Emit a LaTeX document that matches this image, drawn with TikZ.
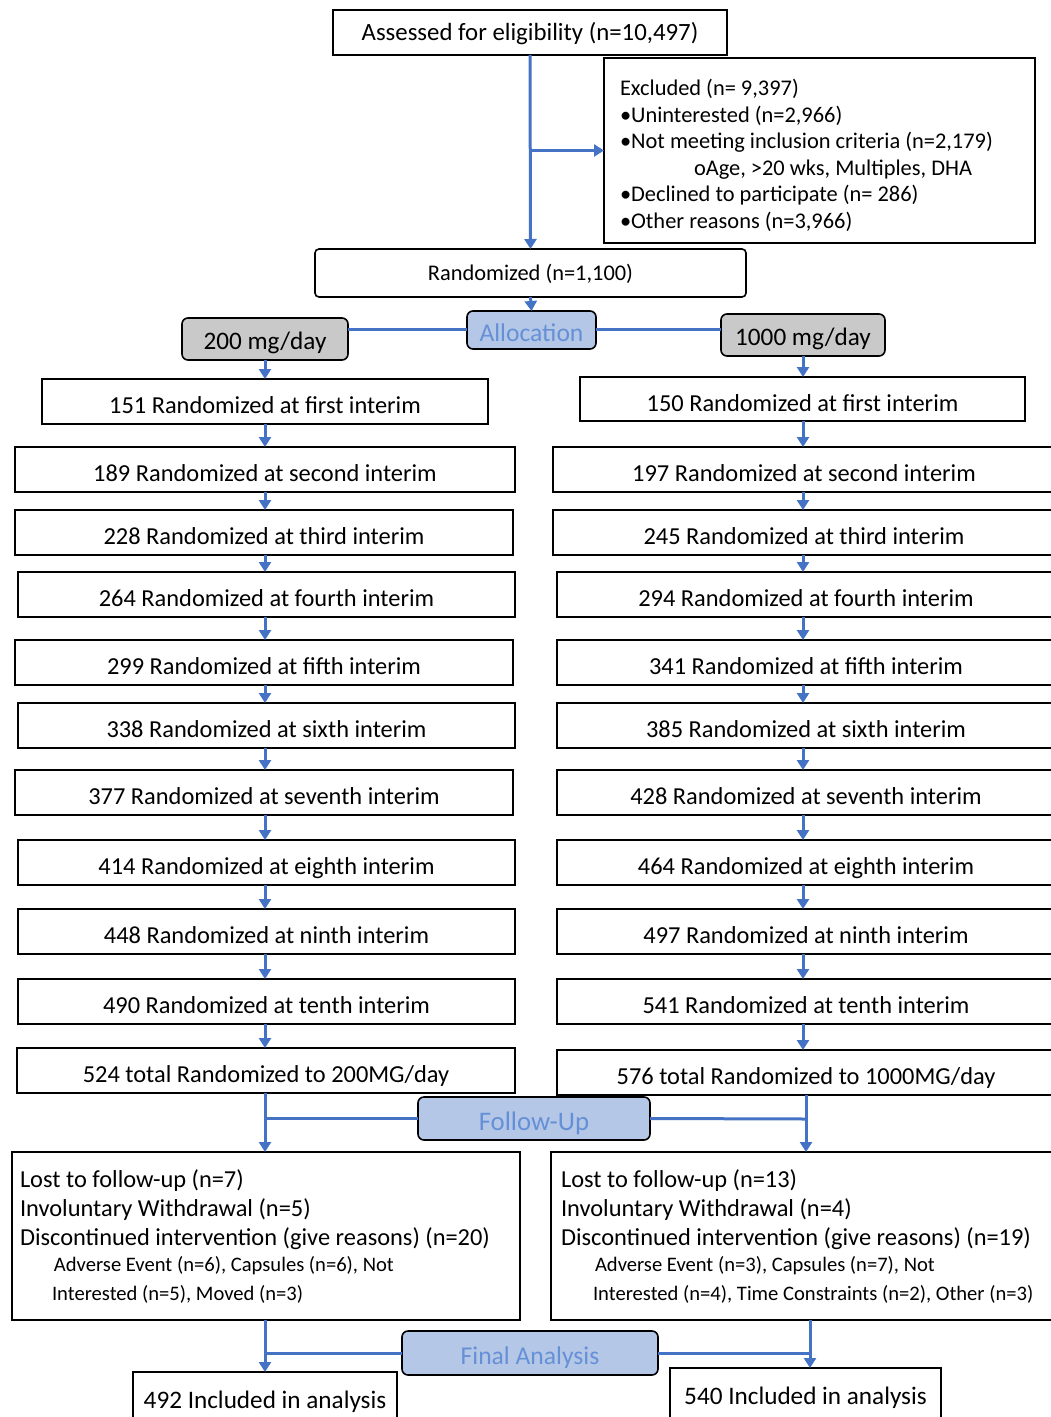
\documentclass[tikz,border=0pt]{standalone}
\usepackage{fontspec}
\setmainfont{Carlito}
\usetikzlibrary{arrows.meta}
\definecolor{lblue}{HTML}{4472C4}
\definecolor{pblue}{HTML}{B4C7E7}
\definecolor{tblue}{HTML}{6690D6}
\definecolor{gbox}{HTML}{C9C9C9}
\newcommand\placebox[7]{\node[#6, minimum width={(#4-#2)*0.5pt}, minimum height={(#5-#3)*0.5pt}] (#1) at ({(#2+#4)/2},{(#3+#5)/2}) {#7};}
\tikzset{
 base/.style={draw=black, line width=0.8pt, inner sep=0pt, outer sep=0pt, font=\fontsize{12.2}{14.5}\selectfont},
 bx/.style={base, text height=12pt, text depth=0pt},
 multi/.style={base, align=flush left},
 rbox/.style={bx, rounded corners=2pt},
 grp/.style={bx, rounded corners=3pt, fill=gbox, font=\fontsize{12.6}{14.5}\selectfont},
 phase/.style={bx, rounded corners=3pt, fill=pblue, text=tblue, font=\fontsize{12.8}{14.5}\selectfont},
 conn/.style={draw=lblue, line width=1.5pt},
 arr/.style={conn, -{Triangle[width=6pt,length=5pt]}},
}
\begin{document}
\begin{tikzpicture}[x=0.5pt,y=-0.5pt]
\path[use as bounding box, fill=white] (0,0) rectangle (1050,1417);
% top
\placebox{assess}{333}{10}{727}{55}{bx, text height=8.5pt, font=\fontsize{12.4}{14.5}\selectfont}{Assessed for eligibility (n=10,497)}
\placebox{excl}{604}{58}{1035}{243}{multi, text width=199.5pt, font=\fontsize{11.2}{13.3}\selectfont}{\rule{0pt}{13pt}Excluded (n= 9,397)\\
•Uninterested (n=2,966)\\
•Not meeting inclusion criteria (n=2,179)\\
\hspace*{37pt}oAge, >20 wks, Multiples, DHA\\
•Declined to participate (n= 286)\\
•Other reasons (n=3,966)}
\placebox{rand}{315}{249}{746}{297}{rbox, text height=8pt, font=\fontsize{11.2}{13}\selectfont}{Randomized (n=1,100)}
\placebox{alloc}{467}{311}{596}{349}{phase}{Allocation}
\placebox{g200}{182}{318}{348}{360}{grp, text height=10.5pt}{200 mg/day}
\placebox{g1000}{721}{314}{885}{356}{grp, text height=10.5pt}{1000 mg/day}
% left column
\placebox{L1}{42}{379}{488}{424}{bx}{151 Randomized at first interim}
\placebox{L2}{15}{447}{515}{492}{bx}{189 Randomized at second interim}
\placebox{L3}{15}{510}{513}{555}{bx}{228 Randomized at third interim}
\placebox{L4}{18}{572}{515}{617}{bx}{264 Randomized at fourth interim}
\placebox{L5}{15}{640}{513}{685}{bx}{299 Randomized at fifth interim}
\placebox{L6}{18}{703}{515}{748}{bx}{338 Randomized at sixth interim}
\placebox{L7}{15}{770}{513}{815}{bx}{377 Randomized at seventh interim}
\placebox{L8}{18}{840}{515}{885}{bx}{414 Randomized at eighth interim}
\placebox{L9}{18}{909}{515}{954}{bx}{448 Randomized at ninth interim}
\placebox{L10}{18}{979}{515}{1024}{bx}{490 Randomized at tenth interim}
\placebox{L11}{17}{1048}{515}{1093}{bx}{524 total Randomized to 200MG/day}
% right column
\placebox{R1}{580}{377}{1025}{421}{bx}{150 Randomized at first interim}
\placebox{R2}{553}{447}{1055}{492}{bx}{197 Randomized at second interim}
\placebox{R3}{553}{510}{1055}{555}{bx}{245 Randomized at third interim}
\placebox{R4}{557}{572}{1055}{617}{bx}{294 Randomized at fourth interim}
\placebox{R5}{557}{640}{1055}{685}{bx}{341 Randomized at fifth interim}
\placebox{R6}{557}{703}{1055}{748}{bx}{385 Randomized at sixth interim}
\placebox{R7}{557}{770}{1055}{815}{bx}{428 Randomized at seventh interim}
\placebox{R8}{557}{840}{1055}{885}{bx}{464 Randomized at eighth interim}
\placebox{R9}{557}{909}{1055}{954}{bx}{497 Randomized at ninth interim}
\placebox{R10}{557}{979}{1055}{1024}{bx}{541 Randomized at tenth interim}
\placebox{R11}{557}{1050}{1055}{1095}{bx}{576 total Randomized to 1000MG/day}
% follow-up
\placebox{fu}{418}{1097}{650}{1140}{phase, font=\fontsize{13.4}{15}\selectfont}{Follow-Up}
\placebox{lostL}{12}{1152}{520}{1320}{multi, text width=246pt}{Lost to follow-up (n=7)\\
Involuntary Withdrawal (n=5)\\
Discontinued intervention (give reasons) (n=20)\\[1pt]
\fontsize{10.3}{12}\selectfont\hspace*{17pt}Adverse Event (n=6), Capsules (n=6), Not\\
\fontsize{10.3}{12}\selectfont\hspace*{16pt}Interested (n=5), Moved (n=3)}
\placebox{lostR}{551}{1152}{1055}{1320}{multi, text width=242pt}{Lost to follow-up (n=13)\\
Involuntary Withdrawal (n=4)\\
Discontinued intervention (give reasons) (n=19)\\[1pt]
\fontsize{10.3}{12}\selectfont\hspace*{17pt}Adverse Event (n=3), Capsules (n=7), Not\\
\fontsize{10.3}{12}\selectfont\hspace*{16pt}Interested (n=4), Time Constraints (n=2), Other (n=3)}
% final analysis
\placebox{fa}{402}{1331}{658}{1375}{phase, text height=11pt}{Final Analysis}
\placebox{incL}{133}{1372}{397}{1426}{bx, text height=9pt, font=\fontsize{12.6}{14.5}\selectfont}{492 Included in analysis}
\placebox{incR}{670}{1368}{941}{1422}{bx, text height=9pt, font=\fontsize{12.6}{14.5}\selectfont}{540 Included in analysis}
% connectors
\draw[arr] (assess.south) -- (rand.north);
\draw[arr] (assess.south |- excl.west) -- (excl.west);
\draw[arr] (rand.south) -- (alloc.north);
\draw[conn] (alloc.west) -- (alloc.west -| g200.east);
\draw[conn] (alloc.east) -- (alloc.east -| g1000.west);
\draw[arr] (g200.south) -- (g200.south |- L1.north);
\draw[arr] (g1000.south) -- (g1000.south |- R1.north);
\foreach \a/\b in {L1/L2,L2/L3,L3/L4,L4/L5,L5/L6,L6/L7,L7/L8,L8/L9,L9/L10,L10/L11}
  \draw[arr] (g200.south |- \a.south) -- (g200.south |- \b.north);
\foreach \a/\b in {R1/R2,R2/R3,R3/R4,R4/R5,R5/R6,R6/R7,R7/R8,R8/R9,R9/R10,R10/R11}
  \draw[arr] (g1000.south |- \a.south) -- (g1000.south |- \b.north);
\coordinate (fuR) at (806,1119);
\coordinate (faR) at (810,1353);
\draw[arr] (g200.south |- L11.south) -- (g200.south |- lostL.north);
\draw[arr] (fuR |- R11.south) -- (fuR |- lostR.north);
\draw[conn] (fu.west) -- (fu.west -| g200.south);
\draw[conn] (fu.east) -- (fuR);
\draw[arr] (g200.south |- lostL.south) -- (g200.south |- incL.north);
\draw[arr] (faR |- lostR.south) -- (faR |- incR.north);
\draw[conn] (fa.west) -- (fa.west -| g200.south);
\draw[conn] (fa.east) -- (faR);
\end{tikzpicture}
\end{document}
